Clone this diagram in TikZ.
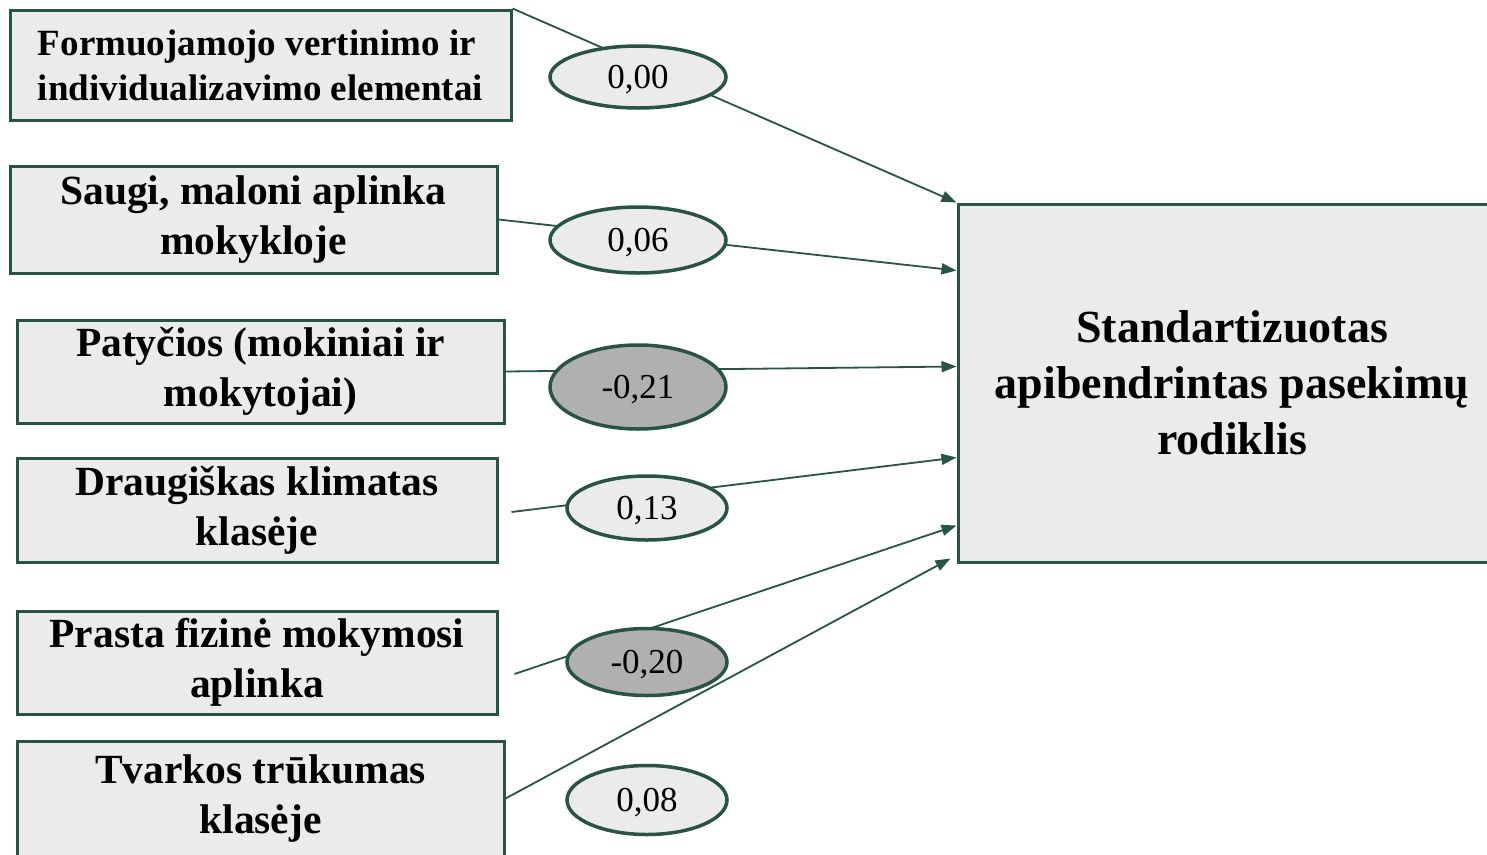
\documentclass[tikz,border=0pt]{standalone}
\usepackage{fontspec}
\setmainfont{Liberation Serif}
\usetikzlibrary{arrows.meta,shapes.geometric}
\definecolor{edgegreen}{RGB}{41,84,69}
\definecolor{boxgray}{RGB}{235,235,235}
\definecolor{neggray}{RGB}{176,176,176}
\tikzset{
  factor/.style={draw=edgegreen,line width=3pt,fill=boxgray,inner sep=0pt,align=center,
    font=\bfseries\fontsize{41.5}{50}\selectfont},
  coef/.style={ellipse,draw=edgegreen,line width=3.5pt,fill=boxgray,inner sep=0pt,
    minimum width=176pt,text depth=0pt,font=\fontsize{35}{35}\selectfont},
  neg/.style={coef,fill=neggray},
  link/.style={draw=edgegreen,line width=1.8pt,-{Triangle[length=15pt,width=11pt]}}
}
\begin{document}
\begin{tikzpicture}[x=1pt,y=-1pt]
\useasboundingbox[fill=white](0,0)rectangle(1487,854);
\node[factor,minimum width=501pt,minimum height=110pt,align=left,
  font=\bfseries\fontsize{37}{45}\selectfont](b1) at(260.5,65){Formuojamojo vertinimo ir\\individualizavimo elementai};
\node[factor,minimum width=487pt,minimum height=107pt](b2) at(253.5,219.5){Saugi, maloni aplinka\\mokykloje};
\node[factor,minimum width=487pt,minimum height=103pt](b3) at(260.5,371.5){Patyčios (mokiniai ir\\mokytojai)};
\node[factor,minimum width=480pt,minimum height=104pt](b4) at(257,510){Draugiškas klimatas\\klasėje};
\node[factor,minimum width=480pt,minimum height=103pt](b5) at(257,662.5){Prasta fizinė mokymosi\\aplinka};
\node[factor,minimum width=487pt,minimum height=115pt](b6) at(260.5,798.5){Tvarkos trūkumas\\klasėje};
\node[factor,minimum width=548pt,minimum height=358pt,
  font=\bfseries\fontsize{46}{56}\selectfont](tg) at(1232,383){Standartizuotas\\apibendrintas pasekimų\\rodiklis};
% ryšiai su rodikliu
\draw[link](b1.north east)--(tg.north west);
\draw[link](b2.east)--([yshift=-68pt]tg.north west);
\draw[link](b3.east)--([yshift=-164pt]tg.north west);
\draw[link]([xshift=13pt,yshift=-2pt]b4.east)--([yshift=-255pt]tg.north west);
\draw[link]([xshift=16pt,yshift=-11.5pt]b5.east)--([yshift=-323pt]tg.north west);
\draw[link](b6.east)--([xshift=-6pt,yshift=-356pt]tg.north west);
% koeficientai
\node[coef,minimum height=62pt](c1) at(638,77){0,00};
\node[coef,minimum height=66pt](c2) at(638,240){0,06};
\node[neg,minimum height=84pt](c3) at(638,387){-0,21};
\node[coef,minimum width=160pt,minimum height=64pt](c4) at(647,508){0,13};
\node[neg,minimum width=160pt,minimum height=67pt](c5) at(647,662){-0,20};
\node[coef,minimum width=160pt,minimum height=69pt](c6) at(647,800){0,08};
\end{tikzpicture}
\end{document}
